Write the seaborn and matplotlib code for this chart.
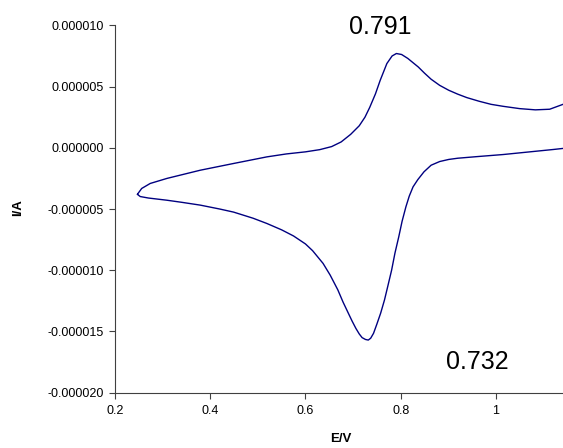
import pandas as pd
import matplotlib
matplotlib.use("Agg")
import matplotlib.pyplot as plt
import seaborn as sns
from matplotlib.ticker import FuncFormatter

# forward (anodic) scan, E in V, I in microamps
E_fwd = [0.247, 0.256, 0.274, 0.309, 0.379, 0.449, 0.519, 0.560, 0.600, 0.630,
         0.655, 0.675, 0.695, 0.713, 0.725, 0.735, 0.747, 0.757, 0.771, 0.782,
         0.791, 0.802, 0.815, 0.837, 0.850, 0.864, 0.882, 0.901, 0.920, 0.939,
         0.965, 0.990, 1.015, 1.050, 1.083, 1.113, 1.141, 1.160]
I_fwd = [-3.8, -3.32, -2.91, -2.5, -1.83, -1.28, -0.74, -0.5, -0.33, -0.15,
         0.1, 0.48, 1.1, 1.8, 2.5, 3.3, 4.4, 5.51, 6.88, 7.5,
         7.7, 7.62, 7.3, 6.6, 6.1, 5.6, 5.1, 4.70, 4.38, 4.10,
         3.8, 3.55, 3.39, 3.2, 3.10, 3.15, 3.55, 4.0]

# reverse (cathodic) scan
E_rev = [1.160, 1.141, 1.120, 1.079, 1.015, 0.960, 0.920, 0.901, 0.882, 0.864,
         0.849, 0.836, 0.826, 0.818, 0.811, 0.803, 0.796, 0.788, 0.781, 0.773,
         0.766, 0.758, 0.750, 0.743, 0.737, 0.732, 0.726, 0.719, 0.713, 0.706,
         0.698, 0.690, 0.679, 0.668, 0.652, 0.637, 0.615, 0.600, 0.575, 0.550,
         0.519, 0.490, 0.449, 0.420, 0.379, 0.340, 0.309, 0.270, 0.253, 0.247]
I_rev = [0.05, -0.05, -0.14, -0.30, -0.55, -0.72, -0.85, -0.95, -1.12, -1.42,
         -1.96, -2.6, -3.19, -3.95, -4.82, -6.0, -7.27, -8.6, -9.99, -11.3,
         -12.43, -13.5, -14.4, -15.15, -15.55, -15.70, -15.65, -15.5, -15.2, -14.75,
         -14.15, -13.5, -12.6, -11.6, -10.4, -9.44, -8.4, -7.85, -7.2, -6.7,
         -6.18, -5.75, -5.25, -5.0, -4.68, -4.45, -4.28, -4.1, -3.98, -3.8]

peak_labels = ["0.791", "0.732"]

x_ticks = [0.2, 0.4, 0.6, 0.8, 1.0]
y_ticks = [-0.00002, -0.000015, -0.00001, -0.000005, 0.0, 0.000005, 0.00001]


def plot_cv():
    df = pd.DataFrame({
        "E": E_fwd + E_rev,
        "I": [v * 1e-6 for v in I_fwd + I_rev],
    })

    sns.set_style("ticks")
    plt.rcParams["font.family"] = ["Liberation Sans", "DejaVu Sans"]
    plt.rcParams["text.color"] = "black"
    plt.rcParams["axes.labelcolor"] = "black"

    fig = plt.figure(figsize=(5.63, 4.48), dpi=100)
    ax = fig.add_axes([0.2043, 0.1234, 0.7957, 0.820])

    sns.lineplot(data=df, x="E", y="I", sort=False, estimator=None,
                 color="#000080", linewidth=1.0, ax=ax)

    ax.set_xlim(0.2, 1.141)
    ax.set_ylim(-0.00002, 0.00001)
    ax.set_xticks(x_ticks)
    ax.set_yticks(y_ticks)
    ax.xaxis.set_major_formatter(FuncFormatter(lambda v, p: f"{v:g}"))
    ax.yaxis.set_major_formatter(
        FuncFormatter(lambda v, p: f"{v:.6f}".replace("-0.000000", "0.000000")))

    sns.despine(ax=ax)
    for side in ["left", "bottom"]:
        ax.spines[side].set_color("#404040")
        ax.spines[side].set_linewidth(0.8)
    ax.tick_params(axis="both", direction="out", length=4, width=0.8,
                   color="#404040", labelsize=9, labelcolor="black")
    ax.tick_params(axis="x", pad=5)
    ax.tick_params(axis="y", pad=4)

    ax.set_xlabel("E/V", fontsize=9.5, fontweight="bold", va="center",
                  color="black")
    ax.set_ylabel("I/A", fontsize=9.5, fontweight="bold", va="center",
                  color="black")
    ax.xaxis.set_label_coords(0.504, -0.127)
    ax.yaxis.set_label_coords(-0.216, 0.503)

    ax.text(0.758, 0.00000986, peak_labels[0], fontsize=18,
            ha="center", va="center", color="black")
    ax.text(0.962, -0.0000175, peak_labels[1], fontsize=18,
            ha="center", va="center", color="black")

    fig.savefig("out.png", dpi=100)
    plt.close(fig)


if __name__ == "__main__":
    plot_cv()
